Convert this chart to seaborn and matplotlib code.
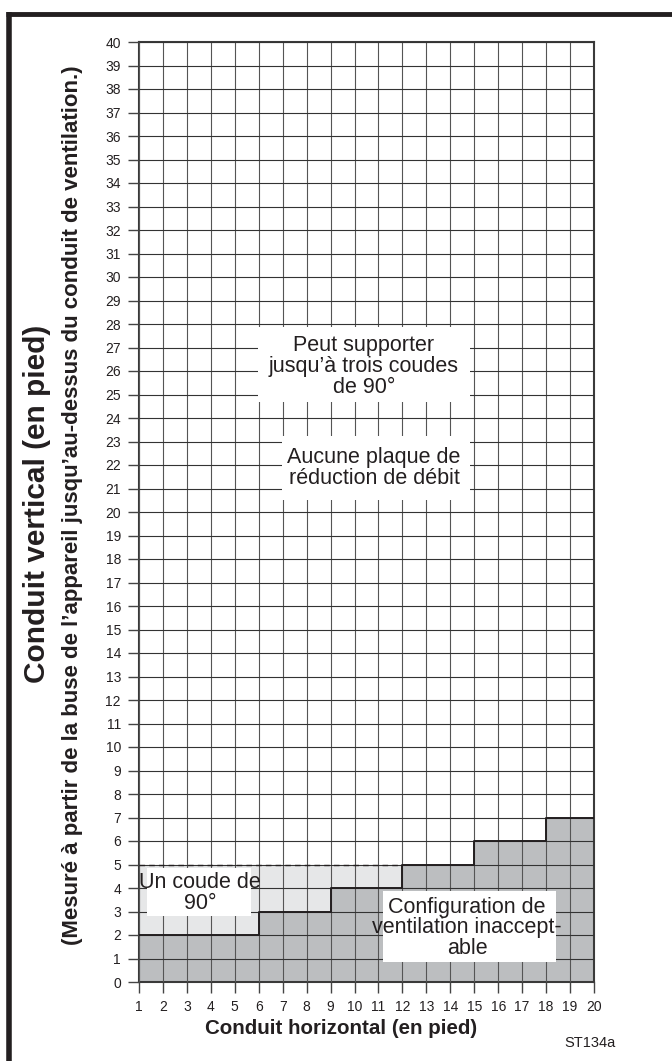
import matplotlib
matplotlib.use("Agg")
import matplotlib.pyplot as plt
import seaborn as sns
import numpy as np
import pandas as pd
from matplotlib.patches import Rectangle
from matplotlib.lines import Line2D

# ---- data ----
x_ticks = list(range(1, 21))
y_ticks = list(range(0, 41))
step_x = [1, 6, 9, 12, 15, 18, 20]
step_y = [2, 3, 4, 5, 6, 7, 7]
limit_x = [1, 6, 9, 12]
limit_low = [2, 3, 4, 4]
limit_high = 5

xlabel = "Conduit horizontal (en pied)"
ylabel1 = "Conduit vertical (en pied)"
ylabel2 = "(Mesuré à partir de la buse de l’appareil jusqu’au-dessus du conduit de ventilation.)"
txt_top = "Peut supporter\njusqu’à trois coudes\nde 90°"
txt_mid = "Aucune plaque de\nréduction de débit"
txt_one = "Un coude de\n90°"
txt_bad = "Configuration de\nventilation inaccept-\nable"
code = "ST134a"

sns.set_style("white")
plt.rcParams['font.family'] = ['Liberation Sans', 'DejaVu Sans']
narrow = ['Liberation Sans Narrow', 'Liberation Sans', 'DejaVu Sans']

W, H = 672, 1061
fig = plt.figure(figsize=(W / 100, H / 100), dpi=100)
L, R, T, B = 139, 594, 42, 982
ax = fig.add_axes([L / W, (H - B) / H, (R - L) / W, (B - T) / H])

dark = '#bcbec0'
light = '#e6e7e8'

step_df = pd.DataFrame({'x': step_x, 'y': step_y})
ax.fill_between(step_x, 0, step_y, step='post', color=dark, lw=0, zorder=1)
ax.fill_between(limit_x, limit_low, limit_high, step='post', color=light, lw=0, zorder=1)
sns.lineplot(data=step_df, x='x', y='y', drawstyle='steps-post', color='#231f20',
             lw=1.4, ax=ax, zorder=3)
ax.plot([limit_x[0], limit_x[-1]], [limit_high, limit_high], color='#231f20',
        lw=1.0, ls=(0, (4, 3)), zorder=3)

ax.set_xlim(1, 20)
ax.set_ylim(0, 40)
ax.set_xticks(x_ticks)
ax.set_yticks(y_ticks)
ax.set_xticklabels([str(v) for v in x_ticks], family=narrow, fontsize=10, color='#231f20')
ax.set_yticklabels([str(v) for v in y_ticks], family=narrow, fontsize=10, color='#231f20')
ax.tick_params(axis='both', which='both', direction='out', length=8, width=1.0,
               color='#444444', left=True, bottom=True)
ax.tick_params(axis='y', pad=5)
ax.tick_params(axis='x', pad=5)
ax.set_axisbelow(False)
ax.grid(True, axis='y', color='#333333', lw=0.8, zorder=2)
ax.grid(True, axis='x', color='#555555', lw=0.8, zorder=2)
for s in ax.spines.values():
    s.set_color('#3a3a3a')
    s.set_linewidth(1.5)
ax.set_xlabel("")
ax.set_ylabel("")

def px2d(px, py):
    return 1 + (px - L) / (R - L) * 19, (B - py) / (B - T) * 40

def box(x0, y0, x1, y1):
    a = px2d(x0, y1)
    b = px2d(x1, y0)
    ax.add_patch(Rectangle(a, b[0] - a[0], b[1] - a[1], facecolor='white',
                           edgecolor='none', zorder=4))

def label(px, py, s, fs=15.5):
    x, y = px2d(px, py)
    ax.text(x, y, s, ha='center', va='center', fontsize=fs, color='#231f20',
            linespacing=1.0, zorder=5)

box(258, 327, 470, 402)
label(364, 366, txt_top)
box(282, 436, 470, 500)
label(374, 468, txt_mid)
box(147, 868, 251, 916)
label(200, 893, txt_one)
box(383, 891, 556, 962)
label(467, 928, txt_bad)

fig.text(341 / W, 1 - 1028 / H, xlabel, ha='center', va='center', fontsize=14.8,
         fontweight='bold', color='#231f20')
fig.text(37 / W, 1 - 504 / H, ylabel1, ha='center', va='center', rotation=90,
         fontsize=21.5, fontweight='bold', color='#231f20')
fig.text(73 / W, 1 - 505 / H, ylabel2, ha='center', va='center', rotation=90,
         fontsize=16, fontweight='bold', color='#231f20')
fig.text(590 / W, 1 - 1043 / H, code, ha='center', va='center', fontsize=10.5,
         color='#231f20')

# outer frame (top and left edges)
fig.add_artist(Line2D([6 / W, 1], [1 - 13.5 / H, 1 - 13.5 / H], transform=fig.transFigure,
                      color='#231f20', lw=3.5, solid_capstyle='butt'))
fig.add_artist(Line2D([9 / W, 9 / W], [0, 1 - 12 / H], transform=fig.transFigure,
                      color='#231f20', lw=4, solid_capstyle='butt'))

fig.savefig("out.png", dpi=100)
